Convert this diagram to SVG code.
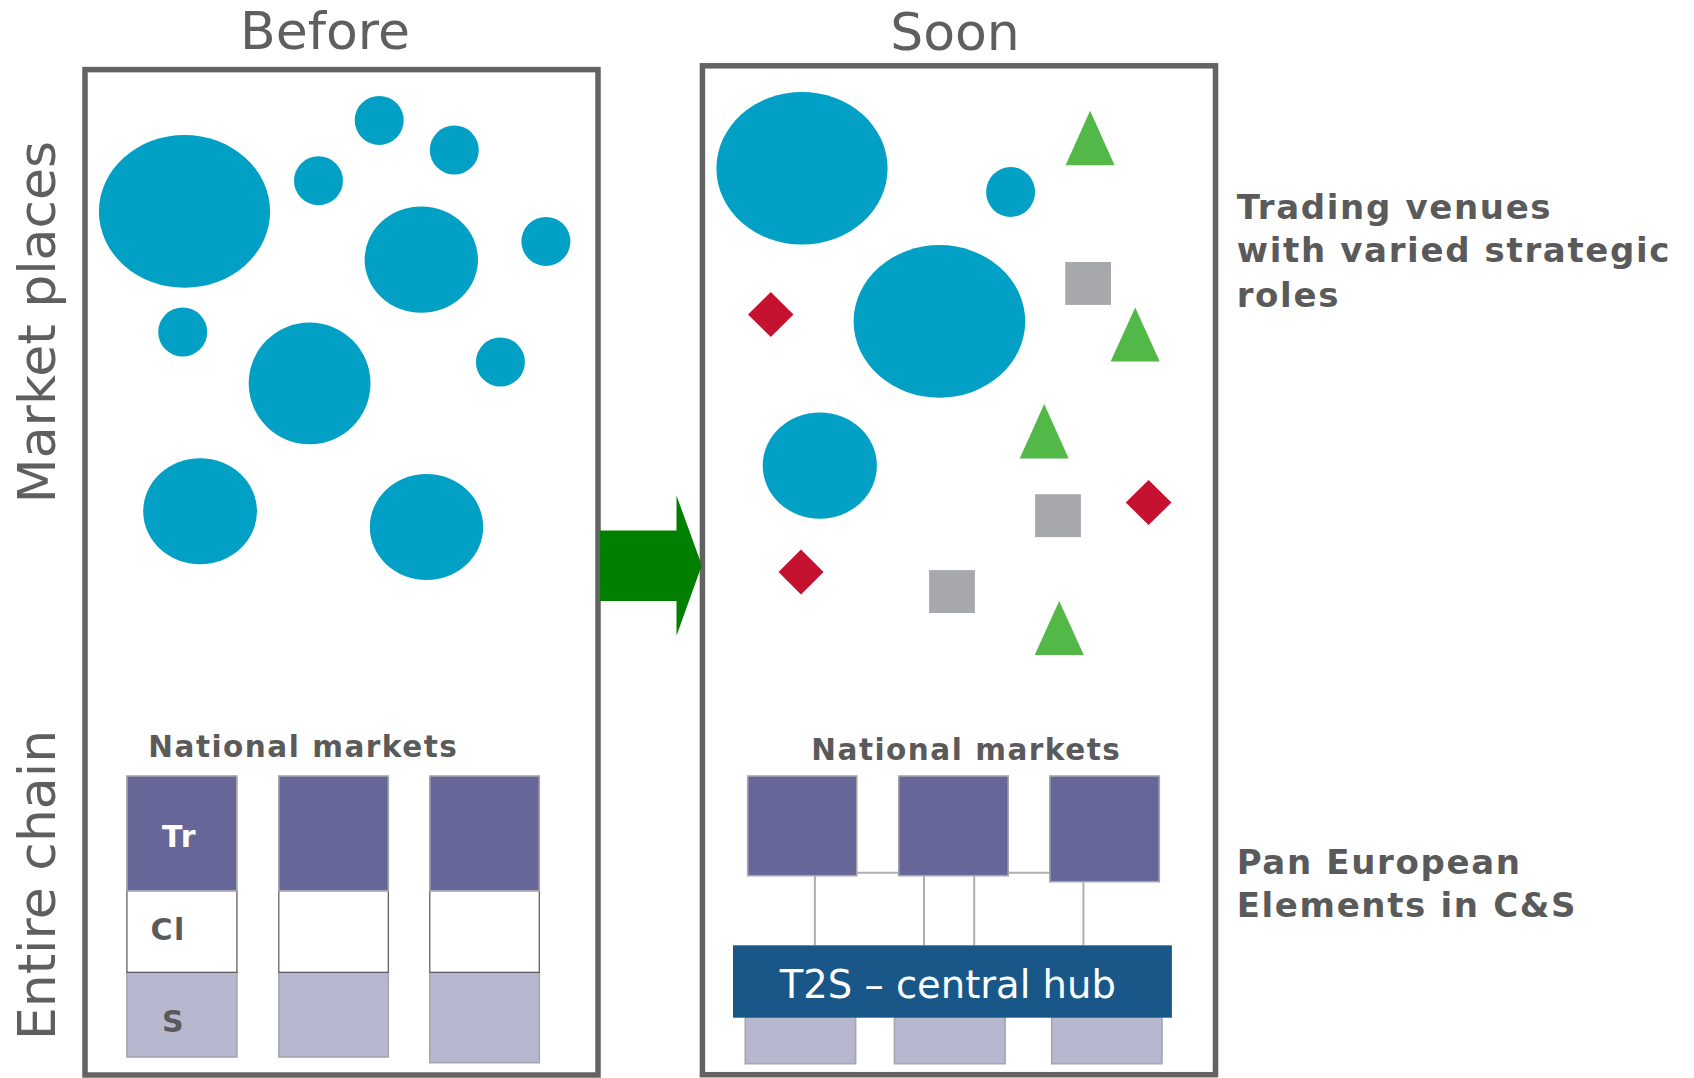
<svg xmlns="http://www.w3.org/2000/svg" width="1694" height="1078" viewBox="0 0 1694 1078">
<style>
.frame{fill:#fff;stroke:#636363;stroke-width:5.5}
.title{font-family:"DejaVu Sans",Verdana,sans-serif;font-size:52px;fill:#5f5f5f}
.label{font-family:"DejaVu Sans",Verdana,sans-serif;font-weight:bold;fill:#5a5a5a;letter-spacing:1.5px}
.venue{fill:#03a0c5}
.tri{fill:#52b848}
.sq{fill:#a7a8ac}
.dia{fill:#c41230}
.tr{fill:#666699;stroke:#a6a6ae;stroke-width:1.6}
.cl{fill:#fff;stroke:#555;stroke-width:1.2}
.s{fill:#b7b7cf;stroke:#a6a6ae;stroke-width:1.6}
.link{stroke:#b0b0b4;stroke-width:2;fill:none}
</style>
<rect width="1694" height="1078" fill="#fff"/>

<g id="titles">
<text class="title" x="325" y="49" text-anchor="middle">Before</text>
<text class="title" x="955" y="50" text-anchor="middle">Soon</text>
<text class="title" transform="translate(54.6,322) rotate(-90)" text-anchor="middle">Market places</text>
<text class="title" transform="translate(54.6,885) rotate(-90)" text-anchor="middle">Entire chain</text>
</g>

<g id="before-box">
<rect class="frame" x="85" y="69.6" width="513" height="1005.4"/>
</g>
<g id="soon-box">
<rect class="frame" x="702.4" y="65.8" width="513.1" height="1008.9"/>
</g>

<g id="connectors">
<polygon id="arrow" points="600,530.4 676.5,530.4 676.5,495.5 701.8,565.2 676.5,635.7 676.5,600.9 600,600.9" fill="#007f00"/>
<line class="link" x1="856.8" y1="872.7" x2="898.7" y2="872.7"/>
<line class="link" x1="1008.2" y1="872.7" x2="1049.8" y2="872.7"/>
<line class="link" x1="814.9" y1="875.7" x2="814.9" y2="945.3"/>
<line class="link" x1="924" y1="875.7" x2="924" y2="945.3"/>
<line class="link" x1="974.2" y1="875.7" x2="974.2" y2="945.3"/>
<line class="link" x1="1083.4" y1="881.7" x2="1083.4" y2="945.3"/>
</g>

<g id="before-venues">
<ellipse class="venue" cx="184.5" cy="211.4" rx="85.6" ry="76.4"/>
<circle class="venue" cx="318.5" cy="180.7" r="24.5"/>
<circle class="venue" cx="379.2" cy="120.4" r="24.5"/>
<circle class="venue" cx="454.3" cy="150" r="24.5"/>
<ellipse class="venue" cx="421.3" cy="259.6" rx="56.7" ry="53.2"/>
<circle class="venue" cx="545.9" cy="241.4" r="24.5"/>
<circle class="venue" cx="182.7" cy="332" r="24.5"/>
<ellipse class="venue" cx="309.6" cy="383.4" rx="60.9" ry="60.9"/>
<circle class="venue" cx="500.4" cy="362" r="24.5"/>
<ellipse class="venue" cx="200.1" cy="511.2" rx="56.9" ry="53"/>
<ellipse class="venue" cx="426.5" cy="527" rx="56.7" ry="53"/>
</g>

<g id="soon-venues">
<ellipse class="venue" cx="802" cy="168.3" rx="85.6" ry="76.3"/>
<ellipse class="venue" cx="1010.6" cy="192" rx="24.5" ry="25"/>
<ellipse class="venue" cx="939.4" cy="321.4" rx="85.8" ry="76.3"/>
<ellipse class="venue" cx="819.8" cy="465.6" rx="57.1" ry="53.1"/>
<polygon class="tri" points="1090.1,110.7 1114.6,165.2 1065.6,165.2"/>
<polygon class="tri" points="1135.2,307.6 1159.7,361.6 1110.6,361.6"/>
<polygon class="tri" points="1044.2,404 1068.7,458.5 1019.7,458.5"/>
<polygon class="tri" points="1059.2,600.9 1083.8,654.9 1034.7,654.9"/>
<rect class="sq" x="1065.2" y="262" width="45.8" height="42.9"/>
<rect class="sq" x="1035.1" y="494.2" width="45.8" height="42.9"/>
<rect class="sq" x="929.1" y="570.1" width="45.8" height="42.9"/>
<polygon class="dia" points="770.8,292 793.5,314.5 770.8,337 748,314.5"/>
<polygon class="dia" points="1148.6,479.9 1171.5,502.5 1148.6,525 1125.7,502.5"/>
<polygon class="dia" points="801,549.6 823.6,572.1 801,594.6 778.5,572.1"/>
</g>

<g id="before-national">
<text class="label" x="148.3" y="756.7" font-size="29.5">National markets</text>
<g id="col1">
<rect class="s" x="126.9" y="972.3" width="110" height="84.7"/>
<rect class="cl" x="126.9" y="890.7" width="110" height="81.6"/>
<rect class="tr" x="126.9" y="776" width="110" height="114.7"/>
<text class="label" x="162" y="847.3" font-size="30" style="fill:#fff">Tr</text>
<text class="label" x="150.6" y="940" font-size="30">Cl</text>
<text class="label" x="162" y="1031.7" font-size="30">S</text>
</g>
<g id="col2">
<rect class="s" x="278.8" y="972.3" width="109.5" height="84.7"/>
<rect class="cl" x="278.8" y="890.7" width="109.5" height="81.6"/>
<rect class="tr" x="278.8" y="776" width="109.5" height="114.7"/>
</g>
<g id="col3">
<rect class="s" x="429.8" y="972.3" width="109.5" height="90.4"/>
<rect class="cl" x="429.8" y="890.7" width="109.5" height="81.6"/>
<rect class="tr" x="429.8" y="776" width="109.5" height="114.7"/>
</g>
</g>

<g id="soon-national">
<text class="label" x="811.3" y="760" font-size="29.5">National markets</text>
<rect id="tr1" class="tr" x="747.7" y="776" width="109.1" height="99.7"/>
<rect id="tr2" class="tr" x="898.7" y="776" width="109.5" height="99.7"/>
<rect id="tr3" class="tr" x="1049.8" y="776" width="109.5" height="105.7"/>
<rect id="s1" class="s" x="745.3" y="1000" width="110.3" height="63.7"/>
<rect id="s2" class="s" x="894.4" y="1000" width="110.7" height="63.7"/>
<rect id="s3" class="s" x="1051.7" y="1000" width="110.3" height="63.7"/>
<g id="t2s-hub">
<rect x="733" y="945.3" width="438.9" height="72.4" fill="#1a5789"/>
<text x="947.8" y="998.3" text-anchor="middle" font-family="'DejaVu Sans',Verdana,sans-serif" font-size="38.5" fill="#fff">T2S – central hub</text>
</g>
</g>

<g id="side-labels">
<text class="label" font-size="34" x="1236.7" y="218.9" style="letter-spacing:1.65px">Trading venues</text>
<text class="label" font-size="34" x="1236.7" y="262.2" style="letter-spacing:1.65px">with varied strategic</text>
<text class="label" font-size="34" x="1236.7" y="306.6" style="letter-spacing:1.65px">roles</text>
<text class="label" font-size="34" x="1236.7" y="873.5" style="letter-spacing:1.65px">Pan European</text>
<text class="label" font-size="34" x="1236.7" y="916.8" style="letter-spacing:1.65px">Elements in C&amp;S</text>
</g>
</svg>
